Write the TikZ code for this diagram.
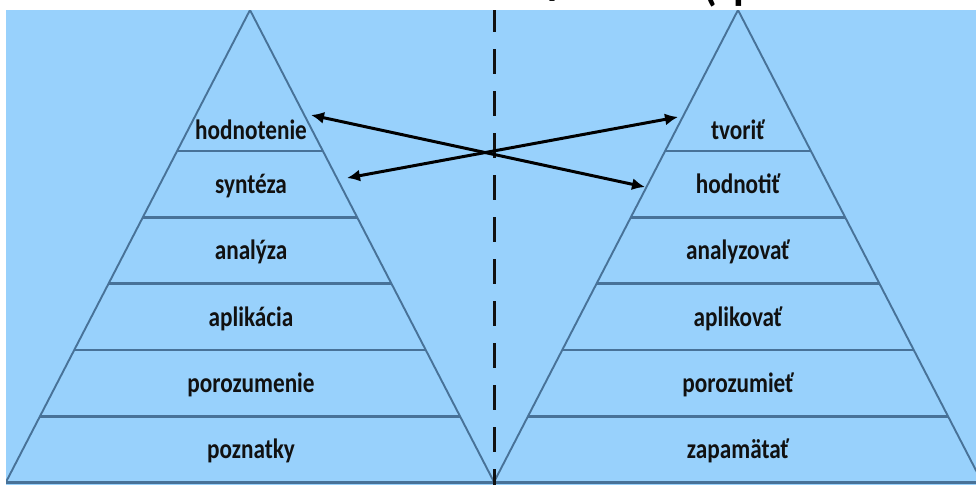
\documentclass[tikz,border=0pt]{standalone}
\usepackage{fontspec}
\setmainfont{Carlito}
\newfontfamily\lblfont[FakeStretch=0.83]{Carlito}
\usetikzlibrary{calc,arrows.meta}
\definecolor{bgblue}{RGB}{152,209,252}
\definecolor{edgeblue}{RGB}{72,114,152}
\definecolor{ink}{RGB}{17,17,17}
\begin{document}
\begin{tikzpicture}[x=1pt,y=-1pt,
  edgeline/.style={draw=edgeblue,line width=1.9pt,line join=miter},
  levelline/.style={draw=edgeblue,line width=2.5pt},
  baseline/.style={draw=edgeblue,line width=3pt},
  lbl/.style={text=ink,font=\lblfont\fontsize{28}{30}\selectfont\bfseries,inner sep=0pt,anchor=base},
  dbl/.style={draw=black,line width=3pt,{Latex[length=13pt,width=12pt]}-{Latex[length=13pt,width=12pt]}},
  divider/.style={draw=ink,line width=3pt,dash pattern=on 25pt off 17pt,dash phase=3pt},
  titlefrag/.style={text=black,font=\fontsize{44}{48}\selectfont\bfseries,inner sep=0pt,anchor=base}]
\useasboundingbox (0,0) rectangle (976,485);
% title fragments (only the bottoms are visible)
\begin{scope}
\clip (0,0) rectangle (976,10);
\node[titlefrag] (tf1) at (556,-6) {y};
\node[titlefrag] (tf2) at (710,0) {(};
\node[titlefrag] (tf3) at (745,-1) {p};
\end{scope}
% background
\fill[bgblue] (6,10) rectangle (976,485);
\begin{scope}
\clip (6,10) rectangle (976,485);
% pyramid corners
\coordinate (LA) at (250,10);
\coordinate (LBL) at (6,482);
\coordinate (LBR) at (494,482);
\coordinate (RA) at (738,10);
\coordinate (RBL) at (494,482);
\coordinate (RBR) at (982,482);
% level lines
\foreach \yy in {151,217.3,283.5,349.8,416.5}{
  \pgfmathsetmacro{\tt}{(\yy-10)/472}
  \draw[levelline] ($(LA)!\tt!(LBL)$) -- ($(LA)!\tt!(LBR)$);
  \draw[levelline] ($(RA)!\tt!(RBL)$) -- ($(RA)!\tt!(RBR)$);
}
\draw[baseline] (LBL) -- (RBR);
\draw[edgeline] (LBL) -- (LA) -- (LBR);
\draw[edgeline] (RBL) -- (RA) -- (RBR);
% divider
\coordinate (DT) at (494,10);
\coordinate (DB) at (494,485);
\draw[divider] (DT) -- (DB);
\end{scope}
% labels left
\node[lbl] (l1) at (251,139) {hodnotenie};
\node[lbl] (l2) at (251,193) {syntéza};
\node[lbl] (l3) at (251,259.5) {analýza};
\node[lbl] (l4) at (251,326) {aplikácia};
\node[lbl] (l5) at (251,392) {porozumenie};
\node[lbl] (l6) at (251,458) {poznatky};
% labels right
\node[lbl] (r1) at (738,139) {tvoriť};
\node[lbl] (r2) at (738,193) {hodnotiť};
\node[lbl] (r3) at (738,259.5) {analyzovať};
\node[lbl] (r4) at (738,326) {aplikovať};
\node[lbl] (r5) at (738,392) {porozumieť};
\node[lbl] (r6) at (738,458) {zapamätať};
% arrows
\coordinate (aL1) at (311,115);
\coordinate (aR2) at (645,187);
\coordinate (aL2) at (347,178);
\coordinate (aR1) at (678,117);
\draw[dbl] (aL1) -- (aR2);
\draw[dbl] (aL2) -- (aR1);
\end{tikzpicture}
\end{document}
